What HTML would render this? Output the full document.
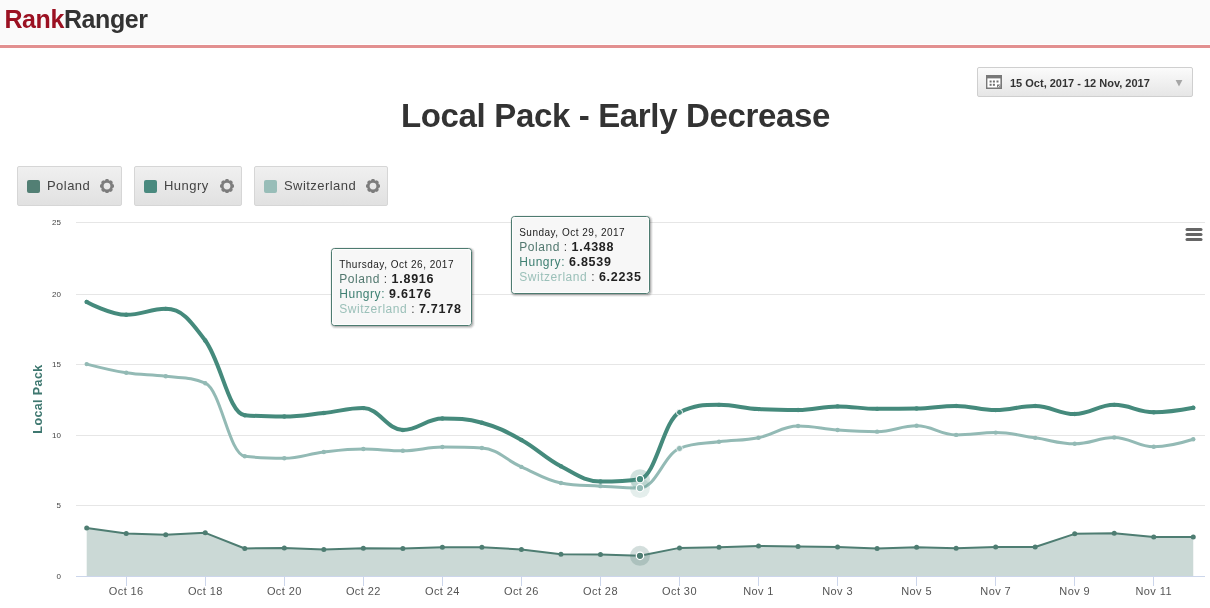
<!DOCTYPE html>
<html><head><meta charset="utf-8">
<style>
*{box-sizing:border-box;margin:0;padding:0}
html,body{width:1210px;height:608px;overflow:hidden;background:#fff;font-family:"Liberation Sans",sans-serif}
#hdr{position:absolute;left:0;top:0;width:1210px;height:44px;background:#fafafa}
#bar{position:absolute;left:0;top:45px;width:1210px;height:3px;background:#e29090}
#logo{position:absolute;left:4.4px;top:4px;font-size:25px;font-weight:bold;letter-spacing:-0.4px;color:#333;line-height:30px}
#logo b{color:#9b1122}
#date{position:absolute;left:977px;top:67px;width:216px;height:30px;border:1px solid #cfcfcf;border-radius:2px;background:linear-gradient(#fbfbfb,#e6e6e6)}
#date .t{position:absolute;left:32px;top:9px;font-size:11px;font-weight:bold;color:#333;white-space:nowrap}
#date .a{position:absolute;left:197px;top:12px}
#cal{position:absolute;left:8px;top:7px}
#title{position:absolute;left:0;width:1231px;top:97px;text-align:center;font-size:33px;font-weight:bold;color:#333;letter-spacing:-0.35px;line-height:38px}
.lg{position:absolute;top:166px;height:40px;border:1px solid #d6d6d6;border-radius:2px;background:linear-gradient(#f0f0f0,#e1e1e1)}
.lg .sq{position:absolute;left:9px;top:13px;width:13px;height:13px;border-radius:2px}
.lg .tx{position:absolute;left:29px;top:11px;font-size:13px;color:#444;white-space:nowrap;letter-spacing:0.45px}
.lg .g{position:absolute;top:12px}
svg{position:absolute;left:0;top:0}
.yl{font-size:8px;fill:#444}
.xl{font-size:11px;fill:#555;letter-spacing:0.4px}
.yt{font-size:12.5px;font-weight:bold;fill:#3f7870;letter-spacing:0.4px}
.td{font-size:10px;fill:#222;letter-spacing:0.5px}
.tv{font-size:12px;letter-spacing:0.55px}
.tb{font-weight:bold;fill:#222;letter-spacing:0.75px;font-size:12.5px}
</style></head><body>
<div id="hdr"><div id="logo"><b>Rank</b>Ranger</div></div>
<div id="bar"></div>
<div id="date"><svg id="cal" width="16" height="14" viewBox="0 0 16 14"><rect width="16" height="14" fill="#787878"/><rect x="1.4" y="3.4" width="13" height="9.1" fill="#fff"/><g fill="#707070"><rect x="3.6" y="5.5" width="2" height="2"/><rect x="6.9" y="5.5" width="2" height="2"/><rect x="10.5" y="5.5" width="2" height="2"/><rect x="3.6" y="8.8" width="2" height="2"/><rect x="6.9" y="8.8" width="2" height="2"/></g><rect x="11" y="9.5" width="3.4" height="3" fill="#787878"/><path d="M12.3 12 L13.6 10.4" stroke="#fff" stroke-width="1"/></svg><div class="t">15 Oct, 2017 - 12 Nov, 2017</div><svg class="a" width="8" height="7" viewBox="0 0 8 7"><path d="M0.6 0 H7.4 L4 6.4 Z" fill="#a6a6a6"/></svg></div>
<div id="title">Local Pack - Early Decrease</div>
<div class="lg" style="left:17px;width:105px"><div class="sq" style="background:#527f74"></div><div class="tx">Poland</div><svg class="g" style="left:81px" width="16" height="16" viewBox="0 0 16 16"><g transform="translate(8 7.1)" fill="#7d7d7d"><circle r="4.75" fill="none" stroke="#7d7d7d" stroke-width="2.7"/><rect x="-1.75" y="-7" width="3.5" height="3" rx="1.1" transform="rotate(0)"/><rect x="-1.75" y="-7" width="3.5" height="3" rx="1.1" transform="rotate(45)"/><rect x="-1.75" y="-7" width="3.5" height="3" rx="1.1" transform="rotate(90)"/><rect x="-1.75" y="-7" width="3.5" height="3" rx="1.1" transform="rotate(135)"/><rect x="-1.75" y="-7" width="3.5" height="3" rx="1.1" transform="rotate(180)"/><rect x="-1.75" y="-7" width="3.5" height="3" rx="1.1" transform="rotate(225)"/><rect x="-1.75" y="-7" width="3.5" height="3" rx="1.1" transform="rotate(270)"/><rect x="-1.75" y="-7" width="3.5" height="3" rx="1.1" transform="rotate(315)"/></g></svg></div>
<div class="lg" style="left:134px;width:108px"><div class="sq" style="background:#4a8a7f"></div><div class="tx">Hungry</div><svg class="g" style="left:84px" width="16" height="16" viewBox="0 0 16 16"><g transform="translate(8 7.1)" fill="#7d7d7d"><circle r="4.75" fill="none" stroke="#7d7d7d" stroke-width="2.7"/><rect x="-1.75" y="-7" width="3.5" height="3" rx="1.1" transform="rotate(0)"/><rect x="-1.75" y="-7" width="3.5" height="3" rx="1.1" transform="rotate(45)"/><rect x="-1.75" y="-7" width="3.5" height="3" rx="1.1" transform="rotate(90)"/><rect x="-1.75" y="-7" width="3.5" height="3" rx="1.1" transform="rotate(135)"/><rect x="-1.75" y="-7" width="3.5" height="3" rx="1.1" transform="rotate(180)"/><rect x="-1.75" y="-7" width="3.5" height="3" rx="1.1" transform="rotate(225)"/><rect x="-1.75" y="-7" width="3.5" height="3" rx="1.1" transform="rotate(270)"/><rect x="-1.75" y="-7" width="3.5" height="3" rx="1.1" transform="rotate(315)"/></g></svg></div>
<div class="lg" style="left:254px;width:134px"><div class="sq" style="background:#98bdb8"></div><div class="tx">Switzerland</div><svg class="g" style="left:110px" width="16" height="16" viewBox="0 0 16 16"><g transform="translate(8 7.1)" fill="#7d7d7d"><circle r="4.75" fill="none" stroke="#7d7d7d" stroke-width="2.7"/><rect x="-1.75" y="-7" width="3.5" height="3" rx="1.1" transform="rotate(0)"/><rect x="-1.75" y="-7" width="3.5" height="3" rx="1.1" transform="rotate(45)"/><rect x="-1.75" y="-7" width="3.5" height="3" rx="1.1" transform="rotate(90)"/><rect x="-1.75" y="-7" width="3.5" height="3" rx="1.1" transform="rotate(135)"/><rect x="-1.75" y="-7" width="3.5" height="3" rx="1.1" transform="rotate(180)"/><rect x="-1.75" y="-7" width="3.5" height="3" rx="1.1" transform="rotate(225)"/><rect x="-1.75" y="-7" width="3.5" height="3" rx="1.1" transform="rotate(270)"/><rect x="-1.75" y="-7" width="3.5" height="3" rx="1.1" transform="rotate(315)"/></g></svg></div>
<svg width="1210" height="608" viewBox="0 0 1210 608">
<path d="M76 505.5 H1205" stroke="#e6e6e6" stroke-width="1"/>
<path d="M76 435.5 H1205" stroke="#e6e6e6" stroke-width="1"/>
<path d="M76 364.5 H1205" stroke="#e6e6e6" stroke-width="1"/>
<path d="M76 294.5 H1205" stroke="#e6e6e6" stroke-width="1"/>
<path d="M76 222.5 H1205" stroke="#e6e6e6" stroke-width="1"/>
<text x="61" y="578.5" text-anchor="end" class="yl">0</text>
<text x="61" y="507.5" text-anchor="end" class="yl">5</text>
<text x="61" y="437.5" text-anchor="end" class="yl">10</text>
<text x="61" y="366.5" text-anchor="end" class="yl">15</text>
<text x="61" y="296.5" text-anchor="end" class="yl">20</text>
<text x="61" y="224.5" text-anchor="end" class="yl">25</text>
<path d="M86.70 528.06 L126.22 533.44 L165.74 534.85 L205.26 532.87 L244.78 548.45 L284.30 547.88 L323.82 549.58 L363.34 548.16 L402.86 548.45 L442.38 547.17 L481.90 547.17 L521.42 549.41 L560.94 554.25 L600.46 554.54 L639.98 555.83 L679.50 547.88 L719.02 547.17 L758.54 546.04 L798.06 546.61 L837.58 546.89 L877.10 548.45 L916.62 547.17 L956.14 548.16 L995.66 546.89 L1035.18 547.03 L1074.70 533.86 L1114.22 533.15 L1153.74 536.98 L1193.26 536.98 L1193.26 576.50 L86.70 576.50 Z" fill="#cbd9d6"/>
<path d="M76 576.5 H1205" stroke="#ccd6eb" stroke-width="1"/>
<path d="M126.5 576 V586" stroke="#ccd6eb" stroke-width="1"/>
<path d="M205.5 576 V586" stroke="#ccd6eb" stroke-width="1"/>
<path d="M284.5 576 V586" stroke="#ccd6eb" stroke-width="1"/>
<path d="M363.5 576 V586" stroke="#ccd6eb" stroke-width="1"/>
<path d="M442.5 576 V586" stroke="#ccd6eb" stroke-width="1"/>
<path d="M521.5 576 V586" stroke="#ccd6eb" stroke-width="1"/>
<path d="M600.5 576 V586" stroke="#ccd6eb" stroke-width="1"/>
<path d="M679.5 576 V586" stroke="#ccd6eb" stroke-width="1"/>
<path d="M758.5 576 V586" stroke="#ccd6eb" stroke-width="1"/>
<path d="M837.5 576 V586" stroke="#ccd6eb" stroke-width="1"/>
<path d="M916.5 576 V586" stroke="#ccd6eb" stroke-width="1"/>
<path d="M995.5 576 V586" stroke="#ccd6eb" stroke-width="1"/>
<path d="M1074.5 576 V586" stroke="#ccd6eb" stroke-width="1"/>
<path d="M1153.5 576 V586" stroke="#ccd6eb" stroke-width="1"/>
<text x="126.2" y="595" text-anchor="middle" class="xl">Oct 16</text>
<text x="205.3" y="595" text-anchor="middle" class="xl">Oct 18</text>
<text x="284.3" y="595" text-anchor="middle" class="xl">Oct 20</text>
<text x="363.3" y="595" text-anchor="middle" class="xl">Oct 22</text>
<text x="442.4" y="595" text-anchor="middle" class="xl">Oct 24</text>
<text x="521.4" y="595" text-anchor="middle" class="xl">Oct 26</text>
<text x="600.5" y="595" text-anchor="middle" class="xl">Oct 28</text>
<text x="679.5" y="595" text-anchor="middle" class="xl">Oct 30</text>
<text x="758.5" y="595" text-anchor="middle" class="xl">Nov 1</text>
<text x="837.6" y="595" text-anchor="middle" class="xl">Nov 3</text>
<text x="916.6" y="595" text-anchor="middle" class="xl">Nov 5</text>
<text x="995.7" y="595" text-anchor="middle" class="xl">Nov 7</text>
<text x="1074.7" y="595" text-anchor="middle" class="xl">Nov 9</text>
<text x="1153.7" y="595" text-anchor="middle" class="xl">Nov 11</text>
<path d="M86.70 528.06 L126.22 533.44 L165.74 534.85 L205.26 532.87 L244.78 548.45 L284.30 547.88 L323.82 549.58 L363.34 548.16 L402.86 548.45 L442.38 547.17 L481.90 547.17 L521.42 549.41 L560.94 554.25 L600.46 554.54 L639.98 555.83 L679.50 547.88 L719.02 547.17 L758.54 546.04 L798.06 546.61 L837.58 546.89 L877.10 548.45 L916.62 547.17 L956.14 548.16 L995.66 546.89 L1035.18 547.03 L1074.70 533.86 L1114.22 533.15 L1153.74 536.98 L1193.26 536.98" fill="none" stroke="#4e7d72" stroke-width="2" stroke-linejoin="round" stroke-linecap="round"/>
<circle cx="86.70" cy="528.06" r="2.5" fill="#4e7d72"/>
<circle cx="126.22" cy="533.44" r="2.5" fill="#4e7d72"/>
<circle cx="165.74" cy="534.85" r="2.5" fill="#4e7d72"/>
<circle cx="205.26" cy="532.87" r="2.5" fill="#4e7d72"/>
<circle cx="244.78" cy="548.45" r="2.5" fill="#4e7d72"/>
<circle cx="284.30" cy="547.88" r="2.5" fill="#4e7d72"/>
<circle cx="323.82" cy="549.58" r="2.5" fill="#4e7d72"/>
<circle cx="363.34" cy="548.16" r="2.5" fill="#4e7d72"/>
<circle cx="402.86" cy="548.45" r="2.5" fill="#4e7d72"/>
<circle cx="442.38" cy="547.17" r="2.5" fill="#4e7d72"/>
<circle cx="481.90" cy="547.17" r="2.5" fill="#4e7d72"/>
<circle cx="521.42" cy="549.41" r="2.5" fill="#4e7d72"/>
<circle cx="560.94" cy="554.25" r="2.5" fill="#4e7d72"/>
<circle cx="600.46" cy="554.54" r="2.5" fill="#4e7d72"/>
<circle cx="639.98" cy="555.83" r="2.5" fill="#4e7d72"/>
<circle cx="679.50" cy="547.88" r="2.5" fill="#4e7d72"/>
<circle cx="719.02" cy="547.17" r="2.5" fill="#4e7d72"/>
<circle cx="758.54" cy="546.04" r="2.5" fill="#4e7d72"/>
<circle cx="798.06" cy="546.61" r="2.5" fill="#4e7d72"/>
<circle cx="837.58" cy="546.89" r="2.5" fill="#4e7d72"/>
<circle cx="877.10" cy="548.45" r="2.5" fill="#4e7d72"/>
<circle cx="916.62" cy="547.17" r="2.5" fill="#4e7d72"/>
<circle cx="956.14" cy="548.16" r="2.5" fill="#4e7d72"/>
<circle cx="995.66" cy="546.89" r="2.5" fill="#4e7d72"/>
<circle cx="1035.18" cy="547.03" r="2.5" fill="#4e7d72"/>
<circle cx="1074.70" cy="533.86" r="2.5" fill="#4e7d72"/>
<circle cx="1114.22" cy="533.15" r="2.5" fill="#4e7d72"/>
<circle cx="1153.74" cy="536.98" r="2.5" fill="#4e7d72"/>
<circle cx="1193.26" cy="536.98" r="2.5" fill="#4e7d72"/>
<path d="M86.70 364.08 C86.70 364.08 110.41 370.29 126.22 372.72 C142.03 375.16 149.93 374.17 165.74 376.26 C181.55 378.36 189.45 376.26 205.26 383.20 C221.07 390.14 228.97 454.28 244.78 456.26 C260.59 458.25 268.49 458.25 284.30 458.25 C300.11 458.25 308.01 453.86 323.82 452.02 C339.63 450.18 347.53 449.04 363.34 449.04 C379.15 449.04 387.05 450.74 402.86 450.74 C418.67 450.74 426.57 447.06 442.38 447.06 C458.19 447.06 466.09 447.06 481.90 448.05 C497.71 449.04 505.61 459.92 521.42 466.92 C537.23 473.91 545.13 479.91 560.94 483.03 C576.75 486.14 584.65 485.13 600.46 486.14 C616.27 487.15 624.17 488.08 639.98 488.08 C655.79 488.08 663.69 455.13 679.50 448.48 C695.31 441.82 703.21 443.97 719.02 441.82 C734.83 439.67 742.73 440.89 758.54 437.72 C774.35 434.54 782.25 425.96 798.06 425.96 C813.87 425.96 821.77 428.79 837.58 429.93 C853.39 431.06 861.29 431.63 877.10 431.63 C892.91 431.63 900.81 425.82 916.62 425.82 C932.43 425.82 940.33 434.88 956.14 434.88 C971.95 434.88 979.85 432.62 995.66 432.62 C1011.47 432.62 1019.37 435.62 1035.18 437.86 C1050.99 440.09 1058.89 443.80 1074.70 443.80 C1090.51 443.80 1098.41 437.57 1114.22 437.57 C1130.03 437.57 1137.93 446.78 1153.74 446.78 C1169.55 446.78 1193.26 439.27 1193.26 439.27" fill="none" stroke="#93bab5" stroke-width="3" stroke-linejoin="round" stroke-linecap="round"/>
<circle cx="86.70" cy="364.08" r="2.2" fill="#93bab5"/>
<circle cx="126.22" cy="372.72" r="2.2" fill="#93bab5"/>
<circle cx="165.74" cy="376.26" r="2.2" fill="#93bab5"/>
<circle cx="205.26" cy="383.20" r="2.2" fill="#93bab5"/>
<circle cx="244.78" cy="456.26" r="2.2" fill="#93bab5"/>
<circle cx="284.30" cy="458.25" r="2.2" fill="#93bab5"/>
<circle cx="323.82" cy="452.02" r="2.2" fill="#93bab5"/>
<circle cx="363.34" cy="449.04" r="2.2" fill="#93bab5"/>
<circle cx="402.86" cy="450.74" r="2.2" fill="#93bab5"/>
<circle cx="442.38" cy="447.06" r="2.2" fill="#93bab5"/>
<circle cx="481.90" cy="448.05" r="2.2" fill="#93bab5"/>
<circle cx="521.42" cy="466.92" r="2.2" fill="#93bab5"/>
<circle cx="560.94" cy="483.03" r="2.2" fill="#93bab5"/>
<circle cx="600.46" cy="486.14" r="2.2" fill="#93bab5"/>
<circle cx="639.98" cy="488.08" r="2.2" fill="#93bab5"/>
<circle cx="679.50" cy="448.48" r="2.2" fill="#93bab5"/>
<circle cx="719.02" cy="441.82" r="2.2" fill="#93bab5"/>
<circle cx="758.54" cy="437.72" r="2.2" fill="#93bab5"/>
<circle cx="798.06" cy="425.96" r="2.2" fill="#93bab5"/>
<circle cx="837.58" cy="429.93" r="2.2" fill="#93bab5"/>
<circle cx="877.10" cy="431.63" r="2.2" fill="#93bab5"/>
<circle cx="916.62" cy="425.82" r="2.2" fill="#93bab5"/>
<circle cx="956.14" cy="434.88" r="2.2" fill="#93bab5"/>
<circle cx="995.66" cy="432.62" r="2.2" fill="#93bab5"/>
<circle cx="1035.18" cy="437.86" r="2.2" fill="#93bab5"/>
<circle cx="1074.70" cy="443.80" r="2.2" fill="#93bab5"/>
<circle cx="1114.22" cy="437.57" r="2.2" fill="#93bab5"/>
<circle cx="1153.74" cy="446.78" r="2.2" fill="#93bab5"/>
<circle cx="1193.26" cy="439.27" r="2.2" fill="#93bab5"/>
<path d="M86.70 301.92 C86.70 301.92 110.41 314.81 126.22 314.81 C142.03 314.81 149.93 308.86 165.74 308.86 C181.55 308.86 189.45 319.17 205.26 340.44 C221.07 361.70 228.97 413.93 244.78 415.20 C260.59 416.48 268.49 416.48 284.30 416.48 C300.11 416.48 308.01 414.61 323.82 412.94 C339.63 411.26 347.53 408.12 363.34 408.12 C379.15 408.12 387.05 429.93 402.86 429.93 C418.67 429.93 426.57 418.46 442.38 418.46 C458.19 418.46 466.09 418.46 481.90 422.71 C497.71 426.95 505.61 431.29 521.42 440.01 C537.23 448.74 545.13 458.03 560.94 466.32 C576.75 474.61 584.65 481.47 600.46 481.47 C616.27 481.47 624.17 481.47 639.98 479.15 C655.79 476.83 663.69 419.87 679.50 412.37 C695.31 404.86 703.21 404.86 719.02 404.86 C734.83 404.86 742.73 408.26 758.54 409.11 C774.35 409.96 782.25 409.96 798.06 409.96 C813.87 409.96 821.77 406.42 837.58 406.42 C853.39 406.42 861.29 408.83 877.10 408.83 C892.91 408.83 900.81 408.83 916.62 408.55 C932.43 408.26 940.33 406.00 956.14 406.00 C971.95 406.00 979.85 410.10 995.66 410.10 C1011.47 410.10 1019.37 406.00 1035.18 406.00 C1050.99 406.00 1058.89 414.07 1074.70 414.07 C1090.51 414.07 1098.41 404.86 1114.22 404.86 C1130.03 404.86 1137.93 412.23 1153.74 412.23 C1169.55 412.23 1193.26 407.70 1193.26 407.70" fill="none" stroke="#458a7c" stroke-width="4" stroke-linejoin="round" stroke-linecap="round"/>
<circle cx="86.70" cy="301.92" r="2.2" fill="#458a7c"/>
<circle cx="126.22" cy="314.81" r="2.2" fill="#458a7c"/>
<circle cx="165.74" cy="308.86" r="2.2" fill="#458a7c"/>
<circle cx="205.26" cy="340.44" r="2.2" fill="#458a7c"/>
<circle cx="244.78" cy="415.20" r="2.2" fill="#458a7c"/>
<circle cx="284.30" cy="416.48" r="2.2" fill="#458a7c"/>
<circle cx="323.82" cy="412.94" r="2.2" fill="#458a7c"/>
<circle cx="363.34" cy="408.12" r="2.2" fill="#458a7c"/>
<circle cx="402.86" cy="429.93" r="2.2" fill="#458a7c"/>
<circle cx="442.38" cy="418.46" r="2.2" fill="#458a7c"/>
<circle cx="481.90" cy="422.71" r="2.2" fill="#458a7c"/>
<circle cx="521.42" cy="440.01" r="2.2" fill="#458a7c"/>
<circle cx="560.94" cy="466.32" r="2.2" fill="#458a7c"/>
<circle cx="600.46" cy="481.47" r="2.2" fill="#458a7c"/>
<circle cx="639.98" cy="479.15" r="2.2" fill="#458a7c"/>
<circle cx="679.50" cy="412.37" r="2.2" fill="#458a7c"/>
<circle cx="719.02" cy="404.86" r="2.2" fill="#458a7c"/>
<circle cx="758.54" cy="409.11" r="2.2" fill="#458a7c"/>
<circle cx="798.06" cy="409.96" r="2.2" fill="#458a7c"/>
<circle cx="837.58" cy="406.42" r="2.2" fill="#458a7c"/>
<circle cx="877.10" cy="408.83" r="2.2" fill="#458a7c"/>
<circle cx="916.62" cy="408.55" r="2.2" fill="#458a7c"/>
<circle cx="956.14" cy="406.00" r="2.2" fill="#458a7c"/>
<circle cx="995.66" cy="410.10" r="2.2" fill="#458a7c"/>
<circle cx="1035.18" cy="406.00" r="2.2" fill="#458a7c"/>
<circle cx="1074.70" cy="414.07" r="2.2" fill="#458a7c"/>
<circle cx="1114.22" cy="404.86" r="2.2" fill="#458a7c"/>
<circle cx="1153.74" cy="412.23" r="2.2" fill="#458a7c"/>
<circle cx="1193.26" cy="407.70" r="2.2" fill="#458a7c"/>
<circle cx="639.98" cy="555.83" r="10" fill="#4e7d72" fill-opacity="0.25"/>
<circle cx="639.98" cy="488.08" r="10" fill="#93bab5" fill-opacity="0.25"/>
<circle cx="639.98" cy="479.15" r="10" fill="#458a7c" fill-opacity="0.25"/>
<circle cx="639.98" cy="555.83" r="3.7" fill="#4e7d72" stroke="#fff" stroke-width="1.2"/>
<circle cx="639.98" cy="488.08" r="3.7" fill="#93bab5" stroke="#fff" stroke-width="1.2"/>
<circle cx="639.98" cy="479.15" r="3.7" fill="#458a7c" stroke="#fff" stroke-width="1.2"/>
<circle cx="679.50" cy="412.37" r="3" fill="#458a7c" stroke="#fff" stroke-width="1"/>
<circle cx="679.50" cy="448.48" r="3" fill="#93bab5" stroke="#fff" stroke-width="0.8" stroke-opacity="0.8"/>
<text transform="translate(42,399) rotate(-90)" text-anchor="middle" class="yt">Local Pack</text>
<path d="M1187 229.5 H1201" stroke="#666" stroke-width="3" stroke-linecap="round"/>
<path d="M1187 234.5 H1201" stroke="#666" stroke-width="3" stroke-linecap="round"/>
<path d="M1187 239.5 H1201" stroke="#666" stroke-width="3" stroke-linecap="round"/>
<rect x="332.5" y="249.5" width="140" height="77" rx="3" fill="none" stroke="#000" stroke-opacity="0.05" stroke-width="5"/>
<rect x="332.5" y="249.5" width="140" height="77" rx="3" fill="none" stroke="#000" stroke-opacity="0.10" stroke-width="3"/>
<rect x="332.5" y="249.5" width="140" height="77" rx="3" fill="none" stroke="#000" stroke-opacity="0.15" stroke-width="1"/>
<rect x="331.5" y="248.5" width="140" height="77" rx="3" fill="#f7f7f7" stroke="#4d7b70" stroke-width="1"/>
<rect x="332.5" y="249.5" width="138" height="75" rx="2" fill="none" stroke="#fff" stroke-width="1" stroke-opacity="0.8"/>
<text x="339.2" y="268.1" class="td">Thursday, Oct 26, 2017</text>
<text x="339.2" y="282.9" class="tv"><tspan fill="#52786f">Poland</tspan><tspan fill="#444"> : </tspan><tspan class="tb">1.8916</tspan></text>
<text x="339.2" y="297.7" class="tv"><tspan fill="#3f8073">Hungry:</tspan><tspan fill="#444"> </tspan><tspan class="tb">9.6176</tspan></text>
<text x="339.2" y="312.5" class="tv"><tspan fill="#9bc0b9">Switzerland</tspan><tspan fill="#444"> : </tspan><tspan class="tb">7.7178</tspan></text>
<rect x="512.5" y="217.5" width="138" height="77" rx="3" fill="none" stroke="#000" stroke-opacity="0.05" stroke-width="5"/>
<rect x="512.5" y="217.5" width="138" height="77" rx="3" fill="none" stroke="#000" stroke-opacity="0.10" stroke-width="3"/>
<rect x="512.5" y="217.5" width="138" height="77" rx="3" fill="none" stroke="#000" stroke-opacity="0.15" stroke-width="1"/>
<rect x="511.5" y="216.5" width="138" height="77" rx="3" fill="#f7f7f7" stroke="#4d7b70" stroke-width="1"/>
<rect x="512.5" y="217.5" width="136" height="75" rx="2" fill="none" stroke="#fff" stroke-width="1" stroke-opacity="0.8"/>
<text x="519.2" y="236.1" class="td">Sunday, Oct 29, 2017</text>
<text x="519.2" y="250.9" class="tv"><tspan fill="#52786f">Poland</tspan><tspan fill="#444"> : </tspan><tspan class="tb">1.4388</tspan></text>
<text x="519.2" y="265.7" class="tv"><tspan fill="#3f8073">Hungry:</tspan><tspan fill="#444"> </tspan><tspan class="tb">6.8539</tspan></text>
<text x="519.2" y="280.5" class="tv"><tspan fill="#9bc0b9">Switzerland</tspan><tspan fill="#444"> : </tspan><tspan class="tb">6.2235</tspan></text>
</svg>
</body></html>
